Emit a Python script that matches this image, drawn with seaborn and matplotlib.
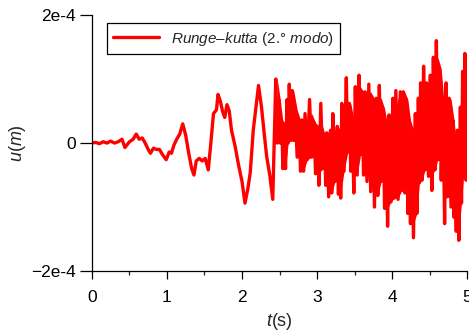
import seaborn as sns
import pandas as pd
import numpy as np
import matplotlib.pyplot as plt

# early part of the response (t < 2.45 s), u in units of 1e-4 m
t_early = [0.00, 0.05, 0.10, 0.15, 0.20, 0.25, 0.30, 0.35, 0.40, 0.44,
           0.50, 0.55, 0.59, 0.63, 0.67, 0.71, 0.75, 0.78, 0.82, 0.86,
           0.90, 0.94, 0.99, 1.03, 1.06, 1.09, 1.13, 1.17, 1.21, 1.25,
           1.29, 1.33, 1.36, 1.39, 1.43, 1.47, 1.51, 1.55, 1.58, 1.62,
           1.66, 1.68, 1.71, 1.74, 1.77, 1.80, 1.83, 1.86, 1.91, 1.95,
           2.00, 2.04, 2.08, 2.11, 2.15, 2.18, 2.22, 2.26, 2.30, 2.33,
           2.37, 2.41]
u_early = [0.00, 0.01, -0.01, 0.02, 0.00, 0.03, 0.00, 0.02, 0.06, -0.07,
           0.02, 0.06, 0.14, 0.06, 0.08, 0.00, -0.10, -0.16, -0.08, -0.10,
           -0.10, -0.18, -0.26, -0.14, -0.16, -0.04, 0.06, 0.14, 0.30, 0.12,
           -0.16, -0.40, -0.50, -0.28, -0.24, -0.28, -0.24, -0.42, -0.06, 0.46,
           0.52, 0.76, 0.66, 0.50, 0.40, 0.60, 0.50, 0.20, -0.06, -0.32,
           -0.60, -0.94, -0.70, -0.46, 0.20, 0.50, 0.90, 0.56, 0.10, -0.22,
           -0.50, -0.88]

# dense part (t >= 2.45 s): upper and lower extremes of the fast oscillation
t_env = [2.45, 2.49, 2.53, 2.56, 2.60, 2.63, 2.67, 2.71, 2.76, 2.80,
         2.84, 2.90, 2.96, 3.00, 3.05, 3.10, 3.13, 3.18, 3.21, 3.27,
         3.30, 3.33, 3.39, 3.43, 3.47, 3.51, 3.56, 3.60, 3.64, 3.69,
         3.74, 3.79, 3.83, 3.88, 3.92, 3.96, 4.01, 4.05, 4.11, 4.15,
         4.19, 4.23, 4.26, 4.31, 4.35, 4.38, 4.42, 4.46, 4.51, 4.55,
         4.59, 4.63, 4.68, 4.72, 4.76, 4.81, 4.84, 4.87, 4.91, 4.94,
         4.97, 5.00]
u_top = [1.00, 0.68, 0.34, 0.30, 0.68, 0.92, 0.82, 0.52, 0.36, 0.36,
         0.46, 0.68, 0.32, 0.26, 0.62, 0.10, 0.16, 0.20, 0.46, 0.26,
         0.18, 0.62, 1.02, 0.62, 0.38, 0.88, 1.06, 0.80, 0.80, 0.92,
         0.70, 0.70, 0.90, 0.54, 0.28, 0.44, 0.70, 0.82, 0.80, 0.80,
         0.68, 0.36, 0.22, 0.46, 0.70, 0.94, 1.20, 0.94, 1.06, 1.34,
         1.60, 1.16, 0.52, 0.94, 0.70, 0.36, 0.04, 0.20, 0.56, 1.12,
         1.40, 0.60]
u_bot = [0.00, 0.00, -0.40, -0.40, 0.00, 0.04, 0.04, -0.22, -0.44, -0.44,
         -0.26, -0.22, -0.48, -0.66, -0.40, -0.66, -0.84, -0.78, -0.60, -0.80,
         -0.86, -0.44, -0.14, -0.44, -0.78, -0.50, -0.18, -0.50, -0.60, -0.76,
         -1.00, -0.82, -0.60, -1.02, -1.30, -0.92, -0.86, -0.88, -0.74, -0.78,
         -1.10, -1.26, -1.48, -1.10, -0.62, -0.58, -0.42, -0.52, -0.74, -0.42,
         -0.26, -0.58, -1.26, -0.84, -1.00, -1.16, -1.38, -1.52, -0.94, -0.48,
         -0.58]

# build the trace: top at each sample, bottom halfway to the next sample
t_all = list(t_early)
u_all = list(u_early)
t_mid = []
for i in range(len(u_bot)):
    tm = (t_env[i] + t_env[i + 1]) / 2
    t_mid.append(tm)
    t_all += [t_env[i], tm]
    u_all += [u_top[i], u_bot[i]]
t_all.append(t_env[-1])
u_all.append(u_top[-1])

df = pd.DataFrame({'t': t_all, 'u': u_all})

# solid core of the fast oscillation: inner side of neighbouring extremes
core = pd.DataFrame({'t': t_mid,
                     'hi': pd.Series(u_top[:-1]).rolling(2, min_periods=1).min(),
                     'lo': pd.Series(u_bot).rolling(2, min_periods=1).max()})

sns.set_style('ticks')
plt.rcParams['font.family'] = ['Liberation Sans', 'DejaVu Sans']
plt.rcParams['mathtext.fontset'] = 'custom'
plt.rcParams['mathtext.rm'] = 'Liberation Sans'
plt.rcParams['mathtext.it'] = 'Liberation Sans:italic'

red = '#ff0000'
f = plt.figure(figsize=(4.69, 3.35), dpi=100)
ax = f.add_axes([0.196, 0.191, 0.80, 0.764])
ax.fill_between(core['t'].to_numpy(), core['lo'].to_numpy(), core['hi'].to_numpy(),
                color=red, linewidth=0)
sns.lineplot(data=df, x='t', y='u', ax=ax, color=red, linewidth=2.4,
             sort=False, estimator=None,
             label='$\\mathit{Runge}$–$\\mathit{kutta}$ (2.° $\\mathit{modo}$)')

ax.set_xlim(0, 5)
ax.set_ylim(-2, 2)
ax.set_xticks([0, 1, 2, 3, 4, 5])
ax.set_xticks([0.5, 1.5, 2.5, 3.5, 4.5], minor=True)
ax.set_yticks([-2, 0, 2])
ax.set_yticklabels(['−2e-4', '0', '2e-4'])
ax.tick_params(axis='both', which='major', width=0.9, labelsize=12.5,
               direction='out', color='black', labelcolor='black')
ax.tick_params(axis='y', which='major', length=8.5, pad=3)
ax.tick_params(axis='x', which='major', length=6, pad=8)
ax.tick_params(axis='x', which='minor', length=3, width=0.9, direction='out')
for s in ['left', 'bottom']:
    ax.spines[s].set_linewidth(0.9)
    ax.spines[s].set_color('black')
sns.despine(ax=ax)

ax.set_xlabel('$\\mathit{t}$(s)', fontsize=13, labelpad=4)
ax.set_ylabel('$\\mathit{u}$($\\mathit{m}$)', fontsize=13, labelpad=2)

leg = ax.legend(loc='upper left', bbox_to_anchor=(0.02, 0.997), fontsize=11,
                frameon=True, fancybox=False, framealpha=1, borderpad=0.4,
                handlelength=3.0, handletextpad=0.8)
leg.get_frame().set_edgecolor('black')
leg.get_frame().set_linewidth(0.9)

f.savefig('out.png', dpi=100)
